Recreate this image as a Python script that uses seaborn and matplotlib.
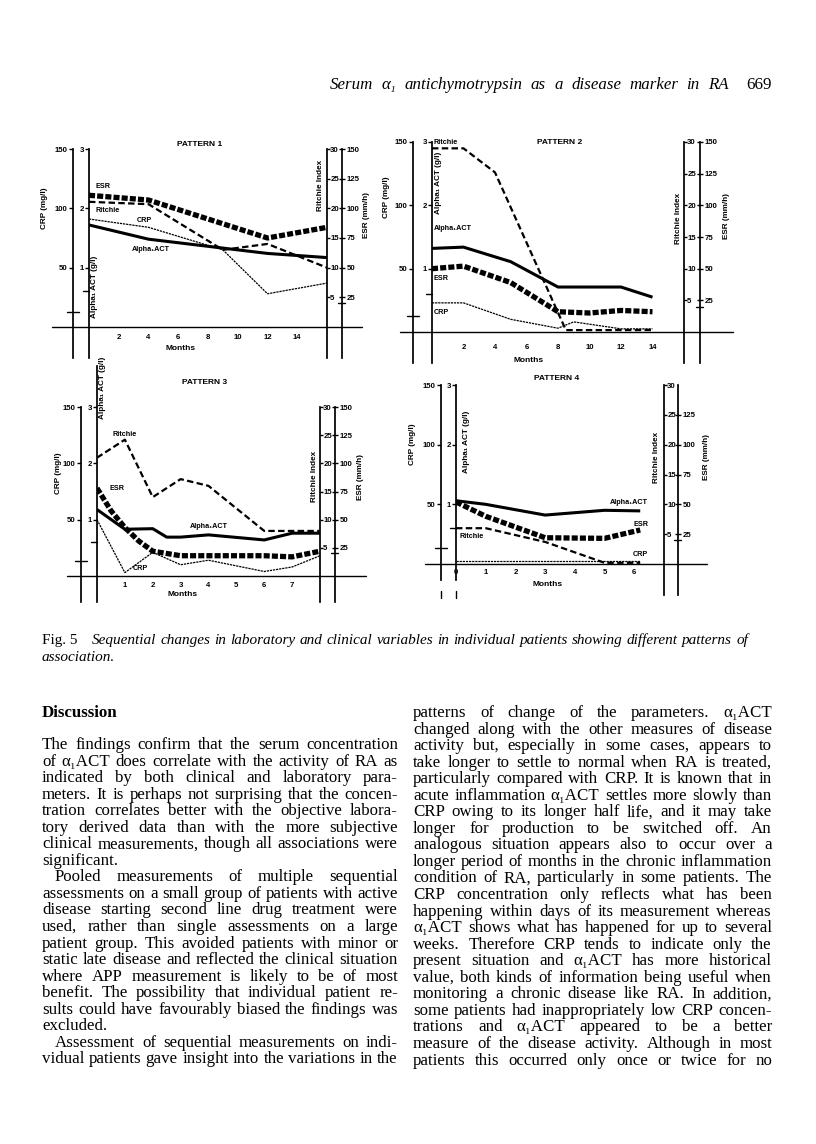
import matplotlib
matplotlib.use("Agg")
import matplotlib.pyplot as plt
from matplotlib.lines import Line2D
import seaborn as sns

sns.set_theme(style="white")
SANS = ["Liberation Sans", "DejaVu Sans"]
SERIF = ["Liberation Serif", "DejaVu Serif"]
plt.rcParams["font.family"] = SANS
plt.rcParams["font.weight"] = "bold"
plt.rcParams["text.color"] = "black"
plt.rcParams["xtick.color"] = "black"
plt.rcParams["ytick.color"] = "black"
plt.rcParams["axes.edgecolor"] = "black"

# ---------------- data (months, values in native units) ----------------
# Pattern 1
P1_ACT_M = [0, 4, 12, 16]
P1_ACT = [1.72, 1.48, 1.24, 1.17]          # g/l
P1_ESR_M = [0, 4, 12, 16]
P1_ESR = [111, 107, 75, 84]                # mm/h
P1_RIT_M = [0, 4, 9, 12, 16]
P1_RIT = [21.1, 20.7, 13, 14, 10]          # Ritchie index
P1_CRP_M = [0, 4, 9, 12, 16]
P1_CRP = [91, 84, 65, 28, 37]              # mg/l
P1_MONTH_TICKS = [2, 4, 6, 8, 10, 12, 14]

# Pattern 2
P2_ACT_M = [0, 2, 5, 8, 12, 14]
P2_ACT = [1.32, 1.34, 1.11, 0.71, 0.71, 0.55]
P2_ESR_M = [0, 2, 5, 8, 10, 12, 14]
P2_ESR = [50, 52, 39, 16, 15, 17, 16]
P2_RIT_M = [0, 2, 4, 8.5, 14]
P2_RIT = [29, 29, 25.2, 0.3, 0.3]
P2_CRP_M = [0, 2, 5, 8, 9, 12, 14]
P2_CRP = [23, 23, 10, 3, 8, 2.5, 2.5]
P2_MONTH_TICKS = [2, 4, 6, 8, 10, 12, 14]

# Pattern 3
P3_ACT_M = [0, 1, 2, 2.5, 3, 4, 6, 7, 8]
P3_ACT = [1.18, 0.83, 0.84, 0.69, 0.69, 0.73, 0.64, 0.76, 0.76]
P3_ESR_M = [0, 0.5, 1, 1.5, 2, 3, 4, 5, 6, 7, 8]
P3_ESR = [78, 58, 43, 31, 22, 18, 18, 18, 18, 17, 22]
P3_RIT_M = [0, 1, 2, 3, 4, 6, 8]
P3_RIT = [21, 24.2, 14, 17.2, 16, 8, 8]
P3_CRP_M = [0, 1, 2, 3, 4, 6, 7, 8]
P3_CRP = [50, 3, 21, 10, 14, 4, 8, 18]
P3_MONTH_TICKS = [1, 2, 3, 4, 5, 6, 7]

# Pattern 4
P4_ACT_M = [0, 1, 3, 5, 6.2]
P4_ACT = [1.06, 1.0, 0.82, 0.9, 0.89]
P4_ESR_M = [0, 1, 2, 3, 5, 6.2]
P4_ESR = [52, 40, 31, 22, 21.5, 28.5]
P4_RIT_M = [0, 1, 3, 5, 6.2]
P4_RIT = [6.0, 6.0, 3.7, 0.2, 0.2]
P4_CRP_M = [0, 6.2]
P4_CRP = [2.5, 2.5]
P4_MONTH_TICKS = [0, 1, 2, 3, 4, 5, 6]

CRP_TICKS = [50, 100, 150]
ACT_TICKS = [1, 2, 3]
RIT_TICKS = [5, 10, 15, 20, 25, 30]
ESR_TICKS = [25, 50, 75, 100, 125, 150]
ESR_TICKS_P4 = [25, 50, 75, 100, 125]

# upper limits of normal, marked on the axes
CRP_NORMAL = 13     # mg/l
ACT_NORMAL = 0.6    # g/l
ESR_NORMAL = 20     # mm/h

ACT_LABEL = "Alpha\u2081ACT"

# ---------------- page text ----------------
HEADER = "Serum \u03b1\u2081 antichymotrypsin as a disease marker in RA"
PAGE_NO = "669"
CAPTION_1 = ("Sequential changes in laboratory and clinical variables in individual "
             "patients showing different patterns of")
CAPTION_2 = "association."

LEFT_LINES = [
    "The findings confirm that the serum concentration",
    "of \u03b1\u2081ACT does correlate with the activity of RA as",
    "indicated by both clinical and laboratory para-",
    "meters. It is perhaps not surprising that the concen-",
    "tration correlates better with the objective labora-",
    "tory derived data than with the more subjective",
    "clinical measurements, though all associations were",
    "significant.",
    "Pooled measurements of multiple sequential",
    "assessments on a small group of patients with active",
    "disease starting second line drug treatment were",
    "used, rather than single assessments on a large",
    "patient group. This avoided patients with minor or",
    "static late disease and reflected the clinical situation",
    "where APP measurement is likely to be of most",
    "benefit. The possibility that individual patient re-",
    "sults could have favourably biased the findings was",
    "excluded.",
    "Assessment of sequential measurements on indi-",
    "vidual patients gave insight into the variations in the",
]
LEFT_INDENT = [8, 18]
LEFT_LAST = [7, 17]

RIGHT_LINES = [
    "patterns of change of the parameters. \u03b1\u2081ACT",
    "changed along with the other measures of disease",
    "activity but, especially in some cases, appears to",
    "take longer to settle to normal when RA is treated,",
    "particularly compared with CRP. It is known that in",
    "acute inflammation \u03b1\u2081ACT settles more slowly than",
    "CRP owing to its longer half life, and it may take",
    "longer for production to be switched off. An",
    "analogous situation appears also to occur over a",
    "longer period of months in the chronic inflammation",
    "condition of RA, particularly in some patients. The",
    "CRP concentration only reflects what has been",
    "happening within days of its measurement whereas",
    "\u03b1\u2081ACT shows what has happened for up to several",
    "weeks. Therefore CRP tends to indicate only the",
    "present situation and \u03b1\u2081ACT has more historical",
    "value, both kinds of information being useful when",
    "monitoring a chronic disease like RA. In addition,",
    "some patients had inappropriately low CRP concen-",
    "trations and \u03b1\u2081ACT appeared to be a better",
    "measure of the disease activity. Although in most",
    "patients this occurred only once or twice for no",
]

W, H = 816, 1144
fig = plt.figure(figsize=(W / 100, H / 100), dpi=100)
fig.patch.set_facecolor("white")
renderer = fig.canvas.get_renderer()


def fxy(x, y):
    return x / W, 1 - y / H


LINE_STYLE = {
    "act": dict(lw=2.2, ls="-"),
    "esr": dict(lw=3.8, ls=(0, (1.15, 0.4))),
    "rit": dict(lw=1.6, ls=(0, (2.9, 1.5))),
    "crp": dict(lw=0.9, ls=(0, (1.8, 0.7))),
}
TICK_SIZE = 5.6

PANELS = [
    dict(lay=dict(crp=73, act=89, rit=327, esr=342, top=149, base=327, bottom=358,
                  xmax=16, base_l=52, base_r=362, mpad=5.0, act_top=149, left_cut=None),
         data=dict(esr=(P1_ESR_M, P1_ESR), rit=(P1_RIT_M, P1_RIT),
                   crp=(P1_CRP_M, P1_CRP), act=(P1_ACT_M, P1_ACT)),
         months=P1_MONTH_TICKS, esr_ticks=ESR_TICKS,
         title=("PATTERN 1", 200, 145), mlabel=(181, 349),
         labels=[("ESR", 95, 187), ("Ritchie", 95, 211), ("CRP", 137, 221), (ACT_LABEL, 132, 249)],
         ytitles=[("CRP (mg/l)", 45, 208), ("Alpha\u2081 ACT (g/l)", 94, 287),
                  ("Ritchie Index", 321, 185), ("ESR (mm/h)", 367, 215)]),
    dict(lay=dict(crp=413, act=432, rit=684, esr=700, top=142, base=332, bottom=363,
                  xmax=16, base_l=400, base_r=733, mpad=8.6, act_top=142, left_cut=None),
         data=dict(rit=(P2_RIT_M, P2_RIT), esr=(P2_ESR_M, P2_ESR),
                   crp=(P2_CRP_M, P2_CRP), act=(P2_ACT_M, P2_ACT)),
         months=P2_MONTH_TICKS, esr_ticks=ESR_TICKS,
         title=("PATTERN 2", 560, 143), mlabel=(529, 360),
         labels=[("Ritchie", 434, 142), (ACT_LABEL, 434, 229), ("ESR", 434, 279), ("CRP", 434, 313)],
         ytitles=[("CRP (mg/l)", 387, 197), ("Alpha\u2081 ACT (g/l)", 438, 183),
                  ("Ritchie Index", 679, 218), ("ESR (mm/h)", 726, 216)]),
    dict(lay=dict(crp=81, act=97, rit=320, esr=335, top=407, base=576, bottom=602,
                  xmax=8, base_l=67, base_r=366, mpad=4.3, act_top=366, left_cut=None),
         data=dict(rit=(P3_RIT_M, P3_RIT), esr=(P3_ESR_M, P3_ESR),
                   crp=(P3_CRP_M, P3_CRP), act=(P3_ACT_M, P3_ACT)),
         months=P3_MONTH_TICKS, esr_ticks=ESR_TICKS,
         title=("PATTERN 3", 205, 382), mlabel=(183, 594),
         labels=[("Ritchie", 112, 435), ("ESR", 110, 488), (ACT_LABEL, 190, 526), ("CRP", 133, 568)],
         ytitles=[("CRP (mg/l)", 58, 473), ("Alpha\u2081 ACT (g/l)", 102, 388),
                  ("Ritchie Index", 314, 476), ("ESR (mm/h)", 360, 477)]),
    dict(lay=dict(crp=441, act=456, rit=664, esr=678, top=385, base=564, bottom=595,
                  xmax=7, base_l=425, base_r=707, mpad=3.6, act_top=385, left_cut=580),
         data=dict(rit=(P4_RIT_M, P4_RIT), esr=(P4_ESR_M, P4_ESR),
                   crp=(P4_CRP_M, P4_CRP), act=(P4_ACT_M, P4_ACT)),
         months=P4_MONTH_TICKS, esr_ticks=ESR_TICKS_P4,
         title=("PATTERN 4", 557, 379), mlabel=(548, 584),
         labels=[(ACT_LABEL, 610, 503), ("ESR", 633, 524), ("Ritchie", 459, 536), ("CRP", 633, 554)],
         ytitles=[("CRP (mg/l)", 413, 444), ("Alpha\u2081 ACT (g/l)", 466, 442),
                  ("Ritchie Index", 657, 457), ("ESR (mm/h)", 706, 457)]),
]


def draw_panel(p):
    L = p["lay"]
    left, bottom = fxy(L["act"], L["bottom"])
    width = (L["rit"] - L["act"]) / W
    height = (L["bottom"] - L["top"]) / H
    scale = 150 / (L["base"] - L["top"])       # CRP units per pixel

    def val(py):
        return (L["base"] - py) * scale

    def frac(px):
        return (px - L["act"]) / (L["rit"] - L["act"])

    ymin = val(L["bottom"])
    ax = fig.add_axes([left, bottom, width, height])
    ax_act = ax.twinx()
    ax_rit = ax.twinx()
    ax_esr = ax.twinx()
    axes = {"crp": ax, "act": ax_act, "rit": ax_rit, "esr": ax_esr}
    factor = {"crp": 1, "act": 50, "rit": 5, "esr": 1}

    for key in ["crp", "rit", "esr", "act"]:
        m, v = p["data"][key]
        st = LINE_STYLE[key]
        sns.lineplot(x=m, y=v, ax=axes[key], color="black", linewidth=st["lw"],
                     linestyle=st["ls"], dash_capstyle="butt", solid_capstyle="butt",
                     legend=False)

    for key, a in axes.items():
        a.set_ylim(ymin / factor[key], 150 / factor[key])
        a.set_xlim(0, L["xmax"])
        a.set_ylabel("")
        a.set_xlabel("")
        for s in a.spines.values():
            s.set_visible(False)
        a.set_facecolor("none")

    pt = 72 / 100
    # CRP axis
    ax.spines["left"].set_visible(True)
    ax.spines["left"].set_position(("outward", (L["act"] - L["crp"]) * pt))
    ax.yaxis.tick_left()
    ax.set_yticks(CRP_TICKS)
    ax.set_yticklabels([str(t) for t in CRP_TICKS])
    ax.tick_params(axis="y", direction="out", length=3, width=1, labelsize=TICK_SIZE, pad=0.8)
    # alpha1 ACT axis
    ax_act.spines["left"].set_visible(True)
    ax_act.yaxis.tick_left()
    ax_act.set_yticks(ACT_TICKS)
    ax_act.set_yticklabels([str(t) for t in ACT_TICKS])
    ax_act.tick_params(axis="y", direction="out", length=3, width=1, labelsize=TICK_SIZE, pad=0.8)
    ax_act.spines["left"].set_bounds(ymin / 50, val(L["act_top"]) / 50)
    # Ritchie axis
    ax_rit.spines["right"].set_visible(True)
    ax_rit.yaxis.tick_right()
    ax_rit.set_yticks(RIT_TICKS)
    ax_rit.set_yticklabels([str(t) for t in RIT_TICKS])
    ax_rit.tick_params(axis="y", direction="out", length=2, width=1, labelsize=TICK_SIZE, pad=0.3)
    # ESR axis
    ax_esr.spines["right"].set_visible(True)
    ax_esr.spines["right"].set_position(("outward", (L["esr"] - L["rit"]) * pt))
    ax_esr.yaxis.tick_right()
    ax_esr.set_yticks(p["esr_ticks"])
    ax_esr.set_yticklabels([str(t) for t in p["esr_ticks"]])
    ax_esr.tick_params(axis="y", direction="inout", length=4.5, width=1, labelsize=TICK_SIZE, pad=1.2)

    if L["left_cut"] is not None:
        ax.spines["left"].set_bounds(val(L["left_cut"]), 150)
        ax_act.spines["left"].set_bounds(val(L["left_cut"]) / 50, 3)
        for xx in (L["crp"], L["act"]):
            x0, y0 = fxy(xx, L["bottom"] - 4)
            _, y1 = fxy(xx, L["bottom"] + 3)
            fig.add_artist(Line2D([x0, x0], [y0, y1], color="black", lw=1))

    # months along the baseline
    ax.spines["bottom"].set_position(("data", 0))
    ax.xaxis.tick_bottom()
    ax.set_xticks(p["months"])
    ax.set_xticklabels([str(t) for t in p["months"]])
    ax.tick_params(axis="x", length=0, labelsize=TICK_SIZE, pad=L["mpad"])
    ax.axhline(0, xmin=frac(L["base_l"]), xmax=frac(L["base_r"]), color="black",
               lw=1, clip_on=False)

    # normal range marks
    ax.axhline(CRP_NORMAL, xmin=frac(L["crp"] - 6), xmax=frac(L["crp"] + 6),
               color="black", lw=1, clip_on=False)
    ax_act.axhline(ACT_NORMAL, xmin=frac(L["act"] - 6), xmax=frac(L["act"]),
                   color="black", lw=1, clip_on=False)
    ax_esr.axhline(ESR_NORMAL, xmin=frac(L["esr"] - 4), xmax=frac(L["esr"] + 3),
                   color="black", lw=1, clip_on=False)

    t, tx, ty = p["title"]
    fig.text(*fxy(tx, ty), t, fontsize=6.0, ha="center", va="center", family=SANS)
    fig.text(*fxy(*p["mlabel"]), "Months", fontsize=6.0, ha="center", va="center", family=SANS)
    for s, x, y in p["labels"]:
        fig.text(*fxy(x, y), s, fontsize=5.2, ha="left", va="center", family=SANS)
    for s, x, y in p["ytitles"]:
        fig.text(*fxy(x, y), s, fontsize=5.9, ha="center", va="center", rotation=90,
                 family=SANS)


for p in PANELS:
    draw_panel(p)


# ---------------- justified page text ----------------
def measure(s, size, style="normal", weight="normal"):
    t = fig.text(0, 0, s, fontsize=size, family=SERIF, fontstyle=style, fontweight=weight)
    w = t.get_window_extent(renderer=renderer).width
    t.remove()
    return w


def natural(line, size, style="normal"):
    words = line.split()
    sp = measure("a a", size, style) - measure("aa", size, style)
    return sum(measure(w, size, style) for w in words) + sp * (len(words) - 1)


def set_line(line, x0, x1, y, size, justify=True, style="normal"):
    words = line.split()
    widths = [measure(w, size, style) for w in words]
    sp = measure("a a", size, style) - measure("aa", size, style)
    gap = sp
    if justify and len(words) > 1:
        gap = (x1 - x0 - sum(widths)) / (len(words) - 1)
    x = x0
    for w, wd in zip(words, widths):
        fig.text(*fxy(x, y), w, fontsize=size, family=SERIF, fontweight="normal",
                 fontstyle=style, ha="left", va="baseline")
        x += wd + gap


COL_L = (42, 398)
COL_R = (413, 772)
INDENT = 13
LINE_H = 16.55

# body font size: widest natural line fills its column
base = 10.0
ratios = []
for i, ln in enumerate(LEFT_LINES):
    if i not in LEFT_LAST:
        w = COL_L[1] - COL_L[0] - (INDENT if i in LEFT_INDENT else 0)
        ratios.append(w / natural(ln, base))
for ln in RIGHT_LINES:
    ratios.append((COL_R[1] - COL_R[0]) / natural(ln, base))
body = base * min(ratios) * 0.995

fig.text(*fxy(COL_L[0], 717), "Discussion", fontsize=body, family=SERIF,
         fontweight="bold", ha="left", va="baseline")
for i, ln in enumerate(LEFT_LINES):
    x0 = COL_L[0] + (INDENT if i in LEFT_INDENT else 0)
    set_line(ln, x0, COL_L[1], 749 + LINE_H * i, body, justify=i not in LEFT_LAST)
for i, ln in enumerate(RIGHT_LINES):
    set_line(ln, COL_R[0], COL_R[1], 717 + LINE_H * i, body)

# caption
cap_gap = 14
fig_w = measure("Fig. 5", base)
cap_nat = fig_w + cap_gap + natural(CAPTION_1, base, "italic")
cap = base * (748 - 42) / cap_nat
fig.text(*fxy(42, 644), "Fig. 5", fontsize=cap, family=SERIF, fontweight="normal",
         ha="left", va="baseline")
x_cap = 42 + measure("Fig. 5", cap) + cap_gap
set_line(CAPTION_1, x_cap, 748, 644, cap, justify=True, style="italic")
set_line(CAPTION_2, 42, 748, 661, cap, justify=False, style="italic")

# running header: italic title, letter-spaced words, then page number
hdr_size = body
fig.text(*fxy(772, 89), PAGE_NO, fontsize=hdr_size, family=SERIF, fontweight="normal",
         ha="right", va="baseline")
hdr_end = 772 - measure(PAGE_NO, hdr_size) - 18
hdr_start = 497
hdr_nat = natural(HEADER, hdr_size, "italic")
if hdr_nat > (hdr_end - hdr_start) * 0.92:
    hdr_start = hdr_end - hdr_nat / 0.92
set_line(HEADER, hdr_start, hdr_end, 89, hdr_size, justify=True, style="italic")

fig.savefig("out.png", dpi=100, facecolor="white")
